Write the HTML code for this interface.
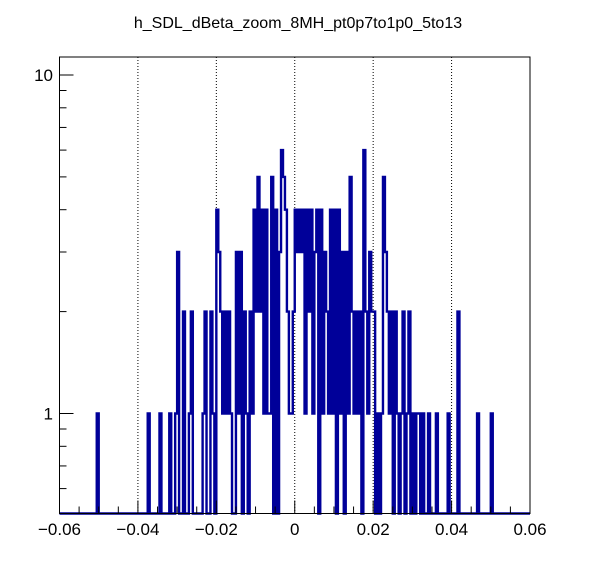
<!DOCTYPE html>
<html><head><meta charset="utf-8"><style>
body{margin:0;background:#fff;}
svg text{font-family:"Liberation Sans",sans-serif;}
</style></head><body>
<svg id="chart" width="596" height="572" viewBox="0 0 596 572" xmlns="http://www.w3.org/2000/svg">
<rect x="0" y="0" width="596" height="572" fill="#fff"/>
<text x="298" y="28" text-anchor="middle" font-size="16" fill="#000">h_SDL_dBeta_zoom_8MH_pt0p7to1p0_5to13</text>
<g id="grid"></g>
<g id="hist"></g>
<g id="axes"></g>
</svg>
<script>
const xMin = -0.06, xMax = 0.06, nBins = 240;
const xTickValues = [-0.06, -0.04, -0.02, 0, 0.02, 0.04, 0.06];
const xTickLabels = ["\u22120.06", "\u22120.04", "\u22120.02", "0", "0.02", "0.04", "0.06"];
const yTickValues = [1, 10];
const yTickLabels = ["1", "10"];
// nonzero bin indices and their counts
const binIndex = [19,45,51,56,59,60,63,66,67,73,74,77,78,80,81,82,83,84,85,86,87,90,91,92,94,95,97,98,99,100,101,102,103,104,105,106,107,108,110,112,113,114,115,116,117,118,119,120,121,122,123,124,125,126,127,128,129,130,131,133,134,135,136,137,138,139,140,142,143,144,146,147,148,149,150,151,152,153,155,156,157,158,159,160,162,164,165,166,167,168,169,171,172,174,175,177,178,180,182,183,185,188,192,198,203,213,220];
const binCount = [1,1,1,1,1,3,2,1,2,1,2,2,1,4,3,2,1,2,1,2,1,3,1,3,2,1,2,1,4,2,5,2,4,1,4,1,1,5,4,3,6,5,4,2,1,1,2,4,3,4,3,4,1,4,2,4,1,3,4,4,1,3,2,1,4,1,4,4,1,3,3,1,5,2,1,2,1,2,6,2,1,3,2,2,1,1,5,3,2,1,2,2,1,1,2,1,2,1,1,1,1,1,1,1,2,1,1];

const L = 59.5, R = 530, T = 57, B = 513.5;
const y1 = 413.5, y10 = 75;
const sx = v => L + (v - xMin) / (xMax - xMin) * (R - L);
const sy = v => y1 - Math.log10(v) * (y1 - y10);
const NS = "http://www.w3.org/2000/svg";
function mk(tag, attrs, parent) {
  const e = document.createElementNS(NS, tag);
  for (const k in attrs) e.setAttribute(k, attrs[k]);
  parent.appendChild(e);
  return e;
}
const grid = document.getElementById('grid');
const hist = document.getElementById('hist');
const axes = document.getElementById('axes');

xTickValues.forEach(v => {
  if (v <= xMin || v >= xMax) return;
  const g = mk('line', {x1: sx(v), x2: sx(v), y1: T, y2: B, stroke: '#000', 'stroke-width': 1, 'stroke-dasharray': '1,2'}, grid);
  
  
});

const counts = new Array(nBins).fill(0);
binIndex.forEach((b, i) => { counts[b] = binCount[i]; });
const bw = (xMax - xMin) / nBins;
let d = '';
const yv = c => c > 0 ? Math.max(T, Math.min(B, sy(c))) : B;
for (let i = 0; i < nBins; i++) {
  const xa = sx(xMin + i * bw), xb = sx(xMin + (i + 1) * bw), y = yv(counts[i]);
  d += (i === 0 ? 'M' : 'L') + xa.toFixed(2) + ',' + y.toFixed(2) + 'L' + xb.toFixed(2) + ',' + y.toFixed(2);
}
const p = mk('path', {d: d, fill: 'none', stroke: '#000099', 'stroke-width': 2.4, 'stroke-linejoin': 'miter'}, hist);



const fr = mk('rect', {x: L, y: T, width: R - L, height: B - T, fill: 'none', stroke: '#000', 'stroke-width': 1}, axes);



for (let k = 0; k <= 24; k++) {
  const v = xMin + k * 0.005;
  const major = k % 4 === 0;
  const t = mk('line', {x1: sx(v), x2: sx(v), y1: B, y2: B - (major ? 13 : 7), stroke: '#000', 'stroke-width': 1}, axes);
  
  
}
xTickValues.forEach((v, i) => {
  const t = mk('text', {x: sx(v), y: 535, 'text-anchor': 'middle', 'font-size': 17, fill: '#000'}, axes);
  t.textContent = xTickLabels[i];
  
  
});

[0.6,0.7,0.8,0.9,1,2,3,4,5,6,7,8,9,10].forEach(v => {
  const major = (v === 1 || v === 10);
  const t = mk('line', {x1: L, x2: L + (major ? 14 : 7), y1: sy(v), y2: sy(v), stroke: '#000', 'stroke-width': 1}, axes);
  
  
});
yTickValues.forEach((v, i) => {
  const t = mk('text', {x: 53, y: sy(v) + 6, 'text-anchor': 'end', 'font-size': 17, fill: '#000'}, axes);
  t.textContent = yTickLabels[i];
  
  
});
</script>
</body></html>
